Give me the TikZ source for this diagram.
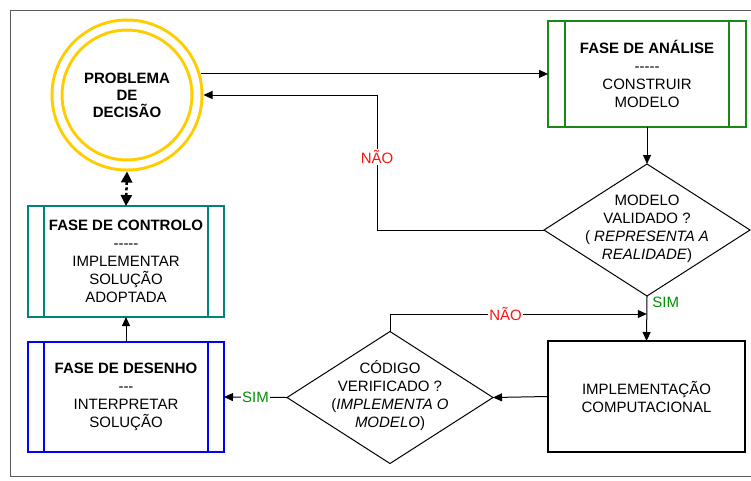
\documentclass[tikz,border=0pt]{standalone}
\usepackage{fontspec}
\setmainfont{Liberation Sans}
\usetikzlibrary{arrows.meta,shapes.geometric,calc}
\definecolor{gold}{RGB}{255,204,0}
\definecolor{agreen}{RGB}{25,135,25}
\definecolor{ateal}{RGB}{0,130,125}
\definecolor{ablue}{RGB}{0,0,255}
\definecolor{nred}{RGB}{255,20,20}
\definecolor{sgreen}{RGB}{0,145,0}
\definecolor{framegray}{RGB}{90,90,90}
\newcommand\hy{\mbox{-}}
\begin{document}
\begin{tikzpicture}[x=1pt,y=-1pt,
  font=\fontsize{15}{18}\selectfont,
  arr/.style={draw=black, line width=1pt, -{Triangle[length=9pt,width=8pt]}},
  proc/.style={draw, line width=2pt, inner sep=0pt, outer sep=0pt, align=center},
  dia/.style={diamond, draw, line width=1pt, minimum width=206pt, minimum height=132pt, inner sep=0pt, outer sep=0pt},
  nolabel/.style={fill=white, text=nred, inner sep=1pt},
  simlabel/.style={text=sgreen, inner sep=1pt}
]
\useasboundingbox (0,0) rectangle (751,480);
% frame
\draw[framegray, line width=1pt] (752,10) -- (10,10) -- (10,476) -- (752,476);

% problem circle
\node[circle, draw=gold, line width=3pt, double=white, double distance=7pt,
      minimum size=140pt, inner sep=0pt, outer sep=6.5pt, align=center,
      font=\fontsize{15}{17}\selectfont\bfseries] (prob) at (127,95) {PROBLEMA\\DE\\DECISÃO};

% analysis
\node[proc, draw=agreen, minimum width=198pt, minimum height=106pt] (ana) at (647,74)
  {\textbf{FASE DE ANÁLISE}\\\hy\hy\hy\hy\hy\\CONSTRUIR\\MODELO};
\draw[agreen, line width=2pt] ([xshift=17pt]ana.north west) -- ([xshift=17pt]ana.south west);
\draw[agreen, line width=2pt] ([xshift=-17pt]ana.north east) -- ([xshift=-17pt]ana.south east);

% control
\node[proc, draw=ateal, minimum width=196pt, minimum height=111pt] (con) at (126,261.5)
  {\textbf{FASE DE CONTROLO}\\\hy\hy\hy\hy\hy\\IMPLEMENTAR\\SOLUÇÃO\\ADOPTADA};
\draw[ateal, line width=2pt] ([xshift=16pt]con.north west) -- ([xshift=16pt]con.south west);
\draw[ateal, line width=2pt] ([xshift=-16pt]con.north east) -- ([xshift=-16pt]con.south east);

% design
\node[proc, draw=ablue, minimum width=196pt, minimum height=110pt] (des) at (126,397)
  {\textbf{FASE DE DESENHO}\\\hy\hy\hy\\INTERPRETAR\\SOLUÇÃO};
\draw[ablue, line width=2pt] ([xshift=16pt]des.north west) -- ([xshift=16pt]des.south west);
\draw[ablue, line width=2pt] ([xshift=-16pt]des.north east) -- ([xshift=-16pt]des.south east);

% implementation
\node[proc, draw=black, line width=2.5pt, minimum width=197pt, minimum height=111pt] (imp) at (646.5,396.5)
  {IMPLEMENTAÇÃO\\COMPUTACIONAL};

% decisions
\node[dia] (d1) at (647,230) {};
\node[align=center] (t1) at (647,229) {MODELO\\VALIDADO ?\\( \textit{REPRESENTA A}\\\textit{REALIDADE})};
\node[dia] (d2) at (390,397.5) {};
\node[align=center] (t2) at (390,396) {CÓDIGO\\VERIFICADO ?\\(\textit{IMPLEMENTA O}\\\textit{MODELO})};

\coordinate (join) at ($(d1.south)!0.4!(imp.north)$);

% connectors
\draw[arr] (prob.16) -- (prob.16 -| ana.west);
\draw[arr] (ana.south) -- (d1.north);
\draw[arr] (d1.west) -- ++(-167,0) |- (prob.east) node[pos=0.27, nolabel] {NÃO};
\draw[arr] (d1.south) -- (imp.north) node[pos=0.13, anchor=west, simlabel, inner sep=5pt] {SIM};
\draw[arr] (d2.north) |- (join) node[pos=0.725, nolabel] {NÃO};
\draw[arr] (imp.west) -- (d2.east);
\draw[arr] (d2.west) -- (des.east) node[midway, fill=white, simlabel] {SIM};
\draw[arr] (des.north) -- (con.south);
\draw[line width=2.5pt, dash pattern=on 3pt off 2.5pt,
      {Triangle[length=11pt,width=11pt]}-{Triangle[length=11pt,width=11pt]}] (prob.south) -- (con.north);
\end{tikzpicture}
\end{document}
